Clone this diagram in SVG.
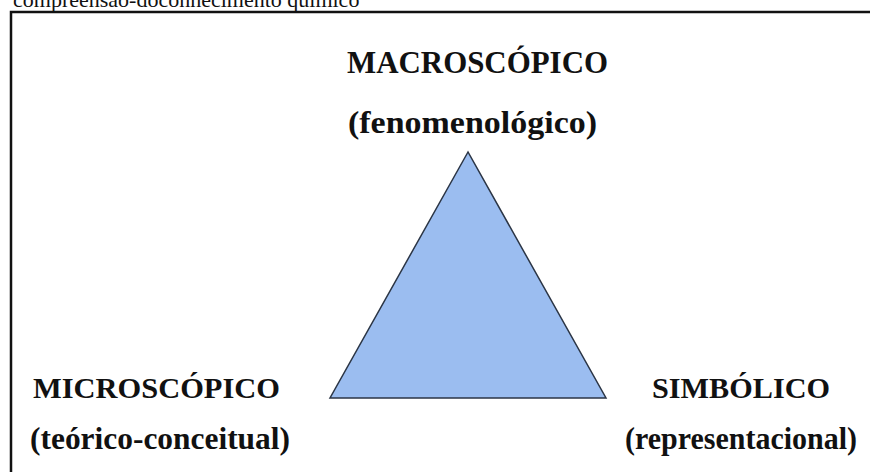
<svg xmlns="http://www.w3.org/2000/svg" width="870" height="472" viewBox="0 0 870 472">
<style>
.lbl{font-family:"Liberation Serif","Times New Roman",serif;font-weight:bold;fill:#111;}
.cap{font-family:"Liberation Serif","Times New Roman",serif;fill:#111;font-size:22px;}
</style>
<rect width="870" height="472" fill="#fff"/>
<text class="cap" x="13" y="7">compreensão-doconhecimento químico</text>
<path d="M11 472 V12 H870" fill="none" stroke="#111" stroke-width="2.5"/>
<g id="triangle">
<polygon points="468,152 330,398 606,398" fill="#9bbdf0" stroke="#2b3545" stroke-width="1.5" stroke-linejoin="miter"/>
</g>
<g id="macroscopico">
<text class="lbl" x="347" y="73" font-size="31" textLength="261" lengthAdjust="spacingAndGlyphs">MACROSCÓPICO</text>
<text class="lbl" x="348" y="133" font-size="31" textLength="249" lengthAdjust="spacingAndGlyphs">(fenomenológico)</text>
</g>
<g id="microscopico">
<text class="lbl" x="33" y="398" font-size="30" textLength="247" lengthAdjust="spacingAndGlyphs">MICROSCÓPICO</text>
<text class="lbl" x="30" y="449" font-size="31" textLength="260" lengthAdjust="spacingAndGlyphs">(teórico-conceitual)</text>
</g>
<g id="simbolico">
<text class="lbl" x="652" y="398" font-size="30" textLength="178" lengthAdjust="spacingAndGlyphs">SIMBÓLICO</text>
<text class="lbl" x="625" y="449" font-size="31" textLength="232" lengthAdjust="spacingAndGlyphs">(representacional)</text>
</g>
</svg>
